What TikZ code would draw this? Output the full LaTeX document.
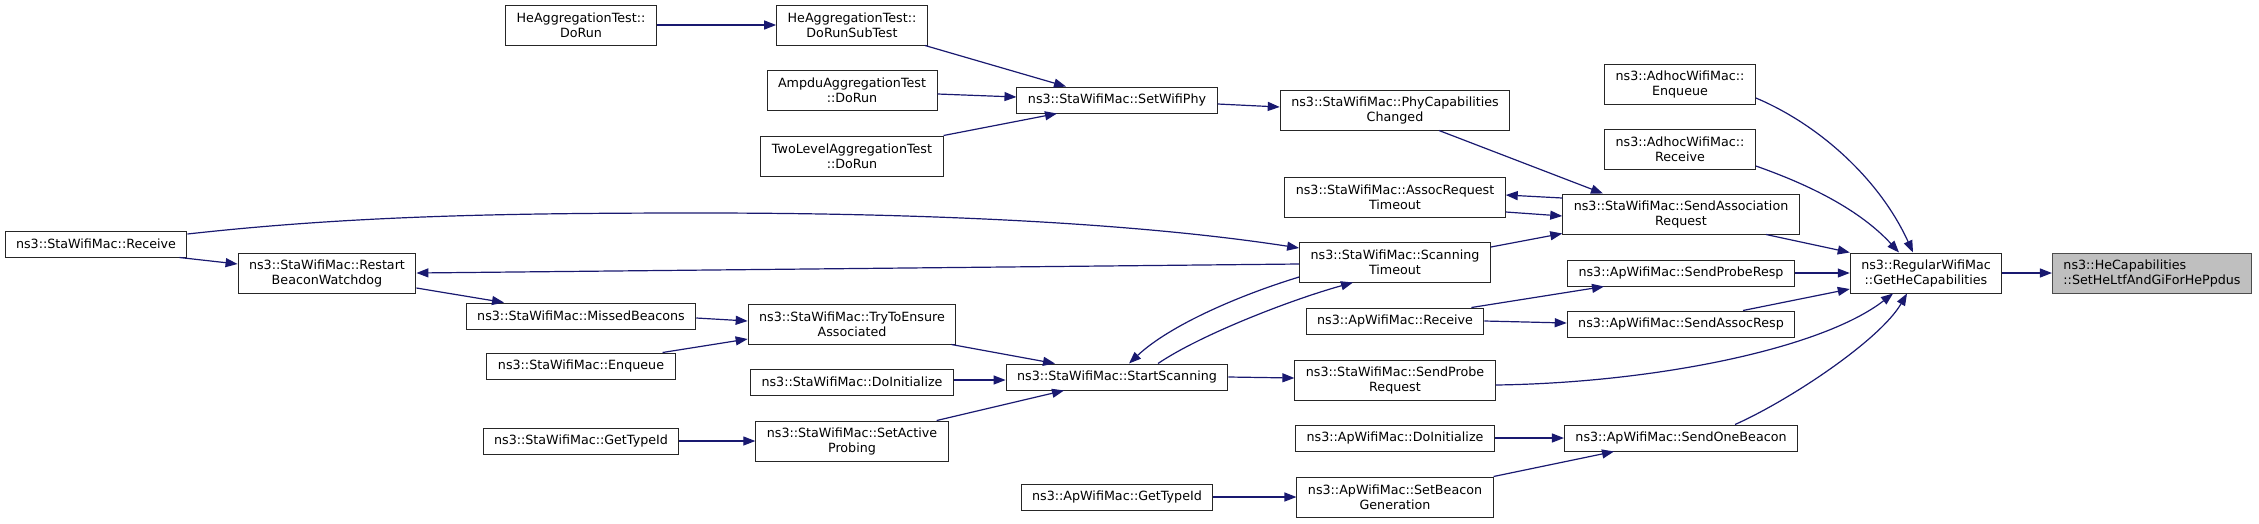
\documentclass[tikz,border=0pt]{standalone}
\usepackage{fontspec}
\setmainfont{DejaVu Sans}
\usetikzlibrary{arrows.meta,calc}
\definecolor{edgeblue}{HTML}{191970}
\definecolor{hlgray}{HTML}{BFBFBF}
\begin{document}
\begin{tikzpicture}[x=1pt,y=-1pt,
  box/.style={draw=black!85, fill=white, line width=1pt, inner xsep=11pt, inner ysep=0pt, align=center, font=\fontsize{12.7}{15}\selectfont},
  one/.style={box, minimum height=26pt},
  two/.style={box, minimum height=40pt},
  call/.style={draw=edgeblue, line width=1.2pt, -{Triangle[length=12pt,width=9pt]}}]
\useasboundingbox (0,0) rectangle (2259,523);

% rank 8 / 7
\node[one] (stareceive) at (96,244) {ns3::StaWifiMac::Receive};
\node[two] (restart) at (327,273) {ns3::StaWifiMac::Restart\\BeaconWatchdog};
% rank 6
\node[two] (hedorun) at (581,25) {HeAggregationTest::\\DoRun};
\node[one] (missedbeacons) at (581,316) {ns3::StaWifiMac::MissedBeacons};
\node[one] (staenqueue) at (581,366) {ns3::StaWifiMac::Enqueue};
\node[one] (stagettypeid) at (581,441) {ns3::StaWifiMac::GetTypeId};
% rank 5
\node[two] (hesub) at (852,25) {HeAggregationTest::\\DoRunSubTest};
\node[two] (ampdu) at (852,90) {AmpduAggregationTest\\::DoRun};
\node[two] (twolevel) at (852,156) {TwoLevelAggregationTest\\::DoRun};
\node[two] (tryto) at (852,324) {ns3::StaWifiMac::TryToEnsure\\Associated};
\node[one] (stadoinit) at (852,382) {ns3::StaWifiMac::DoInitialize};
\node[two] (setactiveprobing) at (852,441) {ns3::StaWifiMac::SetActive\\Probing};
% rank 4
\node[one] (setwifiphy) at (1117,100) {ns3::StaWifiMac::SetWifiPhy};
\node[one] (startscanning) at (1117,377) {ns3::StaWifiMac::StartScanning};
\node[one] (apgettypeid) at (1117,497) {ns3::ApWifiMac::GetTypeId};
% rank 3
\node[two] (phycap) at (1395,110) {ns3::StaWifiMac::PhyCapabilities\\Changed};
\node[two] (assocreqtimeout) at (1395,197) {ns3::StaWifiMac::AssocRequest\\Timeout};
\node[two] (scanningtimeout) at (1395,262) {ns3::StaWifiMac::Scanning\\Timeout};
\node[one] (aprecv) at (1395,321) {ns3::ApWifiMac::Receive};
\node[two] (sendproberequest) at (1395,380) {ns3::StaWifiMac::SendProbe\\Request};
\node[one] (apdoinit) at (1395,438) {ns3::ApWifiMac::DoInitialize};
\node[two] (setbeacongen) at (1395,497) {ns3::ApWifiMac::SetBeacon\\Generation};
% rank 2
\node[two] (adhocenq) at (1680,84) {ns3::AdhocWifiMac::\\Enqueue};
\node[two] (adhocrecv) at (1680,149) {ns3::AdhocWifiMac::\\Receive};
\node[two] (sendassocreq) at (1681,214) {ns3::StaWifiMac::SendAssociation\\Request};
\node[one] (sendproberesp) at (1681,273) {ns3::ApWifiMac::SendProbeResp};
\node[one] (sendassocresp) at (1681,324) {ns3::ApWifiMac::SendAssocResp};
\node[one] (sendonebeacon) at (1681,438) {ns3::ApWifiMac::SendOneBeacon};
% rank 1 / 0
\node[two] (gethecap) at (1926,273) {ns3::RegularWifiMac\\::GetHeCapabilities};
\node[two, fill=hlgray, draw=black!70, align=left] (sethe) at (2152,273) {ns3::HeCapabilities\\::SetHeLtfAndGiForHePpdus};

\coordinate (w1) at (700,213);

% edges
\draw[call] (hedorun) -- (hesub);
\draw[call] ($(hesub.south)+(73,0)$) -- ($(setwifiphy.north)+(-51,0)$);
\draw[call] ($(ampdu.east)+(0,4)$) -- ($(setwifiphy.west)+(0,-3)$);
\draw[call] (twolevel.north east) -- ($(setwifiphy.south)+(-60,0)$);
\draw[call] ($(setwifiphy.east)+(0,4)$) -- ($(phycap.west)+(0,-3)$);
\draw[call] ($(phycap.south)+(44,0)$) -- ($(sendassocreq.north)+(-78,0)$);
\draw[call] ($(sendassocreq.west)+(0,-16)$) -- ($(assocreqtimeout.east)+(0,-2)$);
\draw[call] ($(assocreqtimeout.east)+(0,15)$) -- ($(sendassocreq.west)+(0,2)$);
\draw[call] ($(scanningtimeout.east)+(0,-15)$) -- ($(sendassocreq.south west)+(0,-1)$);
\draw[call] ($(stareceive.east)+(0,-10)$) .. controls (350,216) and (500,213) .. (w1)
   .. controls (950,213) and (1150,225) .. ($(scanningtimeout.west)+(0,-14)$);
\draw[call] ($(stareceive.south east)+(-8,0)$) -- ($(restart.west)+(0,-9)$);
\draw[call] ($(scanningtimeout.west)+(0,2)$) -- (restart.east);
\draw[call] ($(restart.east)+(0,15)$) -- ($(missedbeacons.north)+(-77,0)$);
\draw[call] ($(missedbeacons.east)+(0,2)$) -- ($(tryto.west)+(0,-3)$);
\draw[call] ($(staenqueue.north east)+(-13,0)$) -- ($(tryto.west)+(0,15)$);
\draw[call] ($(tryto.south east)+(-5,0)$) -- ($(startscanning.north)+(-62,0)$);
\draw[call] ($(stadoinit.east)+(0,-2)$) -- ($(startscanning.west)+(0,3)$);
\draw[call] ($(setactiveprobing.north east)+(-12,0)$) -- ($(startscanning.south)+(-53,0)$);
\draw[call] (stagettypeid) -- (setactiveprobing);
\draw[call] ($(startscanning.north)+(41,0)$) .. controls (1200,335) and (1290,300) .. ($(scanningtimeout.south)+(-42,0)$);
\draw[call] ($(scanningtimeout.west)+(0,15)$) .. controls (1240,295) and (1170,325) .. ($(startscanning.north)+(12,0)$);
\draw[call] (startscanning.east) -- ($(sendproberequest.west)+(0,-2)$);
\draw[call] ($(aprecv.north east)+(-13,0)$) -- ($(sendproberesp.south)+(-77,0)$);
\draw[call] (aprecv.east) -- ($(sendassocresp.west)+(0,-1)$);
\draw[call] (sendproberesp) -- (gethecap);
\draw[call] ($(sendassocresp.north)+(62,0)$) -- ($(gethecap.west)+(0,16)$);
\draw[call] ($(sendassocreq.south)+(85,0)$) -- (gethecap.north west);
\draw[call] ($(adhocenq.east)+(0,14)$) .. controls (1820,125) and (1880,180) .. ($(gethecap.north)+(-13,0)$);
\draw[call] ($(adhocrecv.east)+(0,17)$) .. controls (1810,185) and (1860,210) .. ($(gethecap.north)+(-27,0)$);
\draw[call] ($(sendproberequest.east)+(0,5)$) .. controls (1650,383) and (1820,350) .. ($(gethecap.south)+(-33,0)$);
\draw[call] ($(sendonebeacon.north)+(54,0)$) .. controls (1790,400) and (1880,340) .. ($(gethecap.south)+(-19,0)$);
\draw[call] (apdoinit) -- (sendonebeacon);
\draw[call] (apgettypeid) -- (setbeacongen);
\draw[call] (setbeacongen.north east) -- ($(sendonebeacon.south)+(-67,0)$);
\draw[call] (gethecap) -- (sethe);
\end{tikzpicture}
\end{document}
